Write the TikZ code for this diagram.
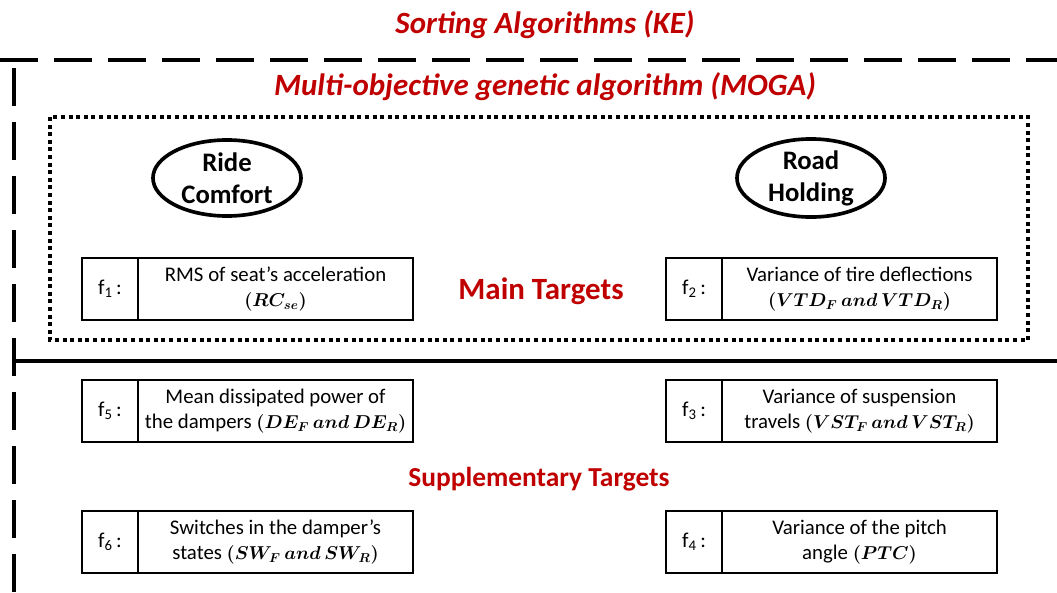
\documentclass[tikz,border=0pt]{standalone}
\usepackage{amsmath}
\usepackage{graphicx}
\usepackage{fontspec}
\setmainfont{Carlito}
\usetikzlibrary{shapes.geometric,positioning}
\definecolor{titlered}{HTML}{C00000}
\newcommand{\objmath}[1]{\scalebox{0.92}{$#1$}}

\begin{document}
\begin{tikzpicture}[x=0.025cm, y=-0.025cm,
    title/.style={text=titlered, font=\fontsize{22pt}{26pt}\selectfont\bfseries\itshape},
    group/.style={text=titlered, font=\fontsize{19.5pt}{23pt}\selectfont\bfseries},
    goal/.style={draw, ellipse, line width=2.6pt, minimum width=3.7cm, minimum height=1.9cm, inner sep=0pt, align=center, font=\fontsize{19pt}{22.7pt}\selectfont\bfseries},
    fcell/.style={draw, rectangle, line width=1.6pt, minimum width=1.4cm, minimum height=1.55cm, outer sep=0pt, font=\fontsize{15pt}{18pt}\selectfont},
    desc/.style={fcell, minimum width=6.875cm, align=center, font=\fontsize{14.8pt}{17.7pt}\selectfont\boldmath}]
    \useasboundingbox (0,0) rectangle (1057,592);

    % Titles
    \node[title] (sorting) at (545,25) {Sorting Algorithms (KE)};
    \node[title] (moga) at (545,87) {Multi-objective genetic algorithm (MOGA)};

    % Outer dashed frame
    \draw[line width=3.5pt, dash pattern=on 0.95cm off 0.4cm] (0,60) -- (1057,60);
    \draw[line width=3.5pt, dash pattern=on 0.95cm off 0.4cm] (14,68) -- (14,592);

    % Divider between main and supplementary
    \draw[line width=2.6pt] (14,361) -- (1057,361);

    % Main targets frame
    \draw[line width=2.6pt, dash pattern=on 0.1cm off 0.09cm] (50,117) rectangle (1028,340);

    % Goals
    \node[goal] (ride) at (227,178) {Ride\\Comfort};
    \node[goal] (road) at (811,178) {Road\\Holding};

    % Group labels
    \node[group, font=\fontsize{22pt}{26pt}\selectfont\bfseries] (main) at (541,291) {Main Targets};
    \node[group] (supp) at (539,479) {Supplementary Targets};

    % Main objectives
    \node[fcell] (f1) at (110,289) {f\textsubscript{1}\,:};
    \node[desc, right=0pt of f1] (f1d) {RMS of seat’s acceleration\\\objmath{(RC_{se})}};
    \node[fcell] (f2) at (694,289) {f\textsubscript{2}\,:};
    \node[desc, right=0pt of f2] (f2d) {Variance of tire deflections\\\objmath{(VTD_F\,and\,VTD_R)}};

    % Supplementary objectives
    \node[fcell] (f5) at (110,411) {f\textsubscript{5}\,:};
    \node[desc, right=0pt of f5] (f5d) {Mean dissipated power of\\the dampers \objmath{(DE_F\,and\,DE_R)}};
    \node[fcell] (f3) at (694,411) {f\textsubscript{3}\,:};
    \node[desc, right=0pt of f3] (f3d) {Variance of suspension\\travels \objmath{(VST_F\,and\,VST_R)}};
    \node[fcell] (f6) at (110,542) {f\textsubscript{6}\,:};
    \node[desc, right=0pt of f6] (f6d) {Switches in the damper’s\\states \objmath{(SW_F\,and\,SW_R)}};
    \node[fcell] (f4) at (694,542) {f\textsubscript{4}\,:};
    \node[desc, right=0pt of f4] (f4d) {Variance of the pitch\\angle \objmath{(PTC)}};

\end{tikzpicture}
\end{document}
